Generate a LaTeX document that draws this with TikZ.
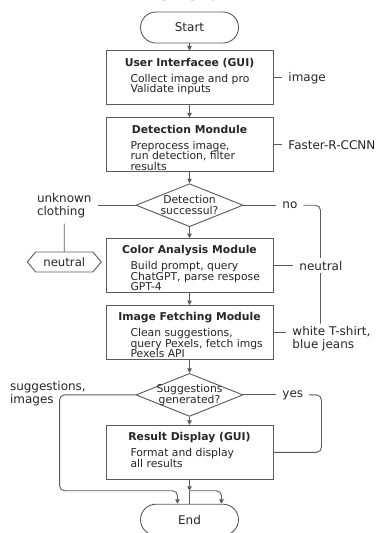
\documentclass[tikz,border=0pt]{standalone}
\usepackage{fontspec}
\setmainfont{DejaVu Sans}
\usepackage{xcolor}
\usetikzlibrary{positioning,arrows.meta,shapes.geometric,shapes.symbols}

\definecolor{edgegray}{HTML}{5A5A5A}
\definecolor{inkgray}{HTML}{262626}

% title centred, body lines left aligned
\newcommand{\modtext}[2]{%
  \begin{minipage}[c][40pt][t]{150pt}
    \lineskiplimit=-20pt
    \centering\bfseries\fontsize{10.8}{12}\selectfont #1\par
    \vspace{5.5pt}
    \mdseries\raggedright\leftskip=16pt\fontsize{10.8}{10.5}\selectfont #2\par
  \end{minipage}}

\begin{document}
\begin{tikzpicture}[
  x=1pt, y=-1pt,
  modbox/.style={rectangle, draw=edgegray, fill=white, line width=0.9pt,
                 minimum width=167pt, minimum height=54pt, inner sep=0pt, text=inkgray},
  term/.style={rectangle, rounded corners=15.5pt, draw=edgegray, line width=0.9pt,
               minimum width=98pt, minimum height=31pt, text=inkgray,
               font=\fontsize{12}{14}\selectfont},
  decision/.style={diamond, draw=edgegray, line width=0.9pt, aspect=2.4,
                   minimum width=107pt, minimum height=43pt, inner sep=-8pt,
                   align=center, text=inkgray, font=\fontsize{10.8}{11}\selectfont},
  hexa/.style={signal, signal to=west and east, signal pointer angle=100,
               draw=edgegray, line width=0.9pt, minimum width=74pt, minimum height=20pt,
               inner sep=2pt, text=inkgray, font=\fontsize{11.7}{13}\selectfont},
  lbl/.style={inner sep=3pt, outer sep=3pt, text=inkgray, font=\fontsize{12}{13}\selectfont},
  conn/.style={draw=edgegray, line width=0.9pt},
  arr/.style={conn, -{Triangle[length=4.5pt,width=4.5pt]}},
]
\useasboundingbox (0,0) rectangle (377,533);

\node[font=\bfseries\fontsize{17.3}{20}\selectfont, text=inkgray, anchor=base] (title) at (189,0.5) {Flowchart};

% main column
\node[term] (start) at (189.5,27.5) {Start};
\node[modbox, below=7pt of start] (ui) {\modtext{User Interfacee (GUI)}{Collect image and pro\\Validate inputs}};
\node[modbox, below=12pt of ui] (det) {\modtext{Detection Mondule}{Preprocess image,\\run detection, filter\\results}};
\node[decision, below=11pt of det] (dec1) {Detection\\successul?};
\node[modbox, below=11pt of dec1] (col) {\modtext{Color Analysis Module}{Build prompt, query\\ChatGPT, parse respose\\GPT-4}};
\node[modbox, below=12pt of col] (img) {\modtext{Image Fetching Module}{Clean suggestions,\\query Pexels, fetch imgs\\Pexels API}};
\node[decision, below=13pt of img] (dec2) {Suggestions\\generated?};
\node[modbox, below=8pt of dec2] (res) {\modtext{Result Display (GUI)}{Format and display\\all results}};
\node[term, below=24pt of res] (end) {End};

\draw[arr] (start) -- (ui);
\draw[arr] (ui) -- (det);
\draw[arr] (det) -- (dec1);
\draw[arr] (dec1) -- (col);
\draw[arr] (col) -- (img);
\draw[arr] (img) -- (dec2);
\draw[arr] (dec2) -- (res);

% side labels
\node[lbl, right=9pt of ui] (lblimg) {image};
\node[lbl, right=9pt of det] (lblfast) {Faster-R-CCNN};
\node[lbl, align=left, anchor=west] (lblwht) at ([xshift=13pt, yshift=-6.5pt]img.east) {white T-shirt,\\blue jeans};
\node[lbl, right=33pt of dec1] (lblno) {no};
\node[lbl, right=33pt of dec2] (lblyes) {yes};
\node[lbl, align=left, left=38pt of dec1] (lblunk) {unknown\\clothing};
\node[hexa, below=28pt of lblunk] (neu) {neutral};
\node[lbl, align=left, anchor=west] (lblsug) at (4,394) {suggestions,\\images};

\draw[conn] (ui) -- (lblimg);
\draw[conn] (det) -- (lblfast);
\draw[conn] (img.east) -- (img.east -| lblwht.west);
\draw[conn] (dec1) -- (lblno);
\draw[conn, rounded corners=5pt] (lblno.east) -| ([xshift=34pt, yshift=-3pt]lblwht.north west);
\draw[conn] (dec1) -- (lblunk);
\draw[conn] (lblunk) -- (neu);

\node[lbl, fill=white, right=20pt of col] (lblneu) {neutral};
\draw[conn] (col) -- (lblneu);

\draw[conn] (dec2) -- (lblyes);
\draw[conn, rounded corners=5pt] (lblyes.east) -| ([xshift=48pt]res.east) -- (res.east);

% merge into End
\coordinate (sugturn) at ([xshift=-76pt]dec2.west);
\draw[arr] (res.south) -- ++(0,11) coordinate (split);
\draw[conn] (split) -- (end.north);
\draw[arr, rounded corners=5pt] (dec2.west) -| (sugturn |- split) -| ([xshift=-12pt]end.north);
\draw[arr, rounded corners=5pt] (split) -| ([xshift=32pt]end.north);
\end{tikzpicture}
\end{document}
